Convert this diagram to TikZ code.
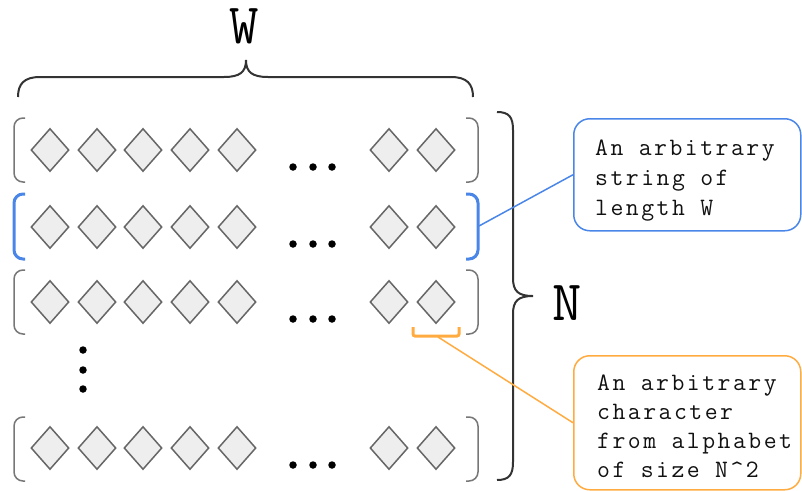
\documentclass[tikz,border=0pt]{standalone}
\usepackage{fontspec}
\setmonofont{Latin Modern Mono}[LetterSpace=10]
\newfontfamily\biglm{Latin Modern Mono}
\usetikzlibrary{shapes.geometric}
\definecolor{dgray}{HTML}{666666}
\definecolor{dfill}{HTML}{EEEEEE}
\definecolor{bgray}{HTML}{777777}
\definecolor{gblue}{HTML}{4A86E8}
\definecolor{gorange}{HTML}{FFAB40}
\definecolor{txt}{HTML}{111111}
\tikzset{
  dia/.style={diamond, draw=dgray, fill=dfill, line width=1.5pt, minimum width=38pt, minimum height=43pt, inner sep=0pt},
  dotn/.style={circle, fill=black, minimum size=7.5pt, inner sep=0pt},
  rowbr/.style={draw=bgray, line width=1.5pt, rounded corners=9pt},
  hibr/.style={draw=gblue, line width=3pt, rounded corners=9pt},
  bigbrace/.style={draw=black!80, line width=2pt},
  callout/.style={draw, line width=1.5pt, rounded corners=16pt, inner sep=0pt},
  ctext/.style={font=\ttfamily\fontsize{25}{30}\selectfont, text=txt, align=left, inner sep=0pt, anchor=base west},
  biglab/.style={font=\biglm\fontsize{57}{57}\selectfont, text=black, inner sep=0pt, anchor=base}
}
\begin{document}
\begin{tikzpicture}[x=1pt,y=-1pt]
\useasboundingbox (0,0) rectangle (802,490);
% rows of diamonds
\foreach \r/\y in {1/150,2/227,3/302,5/448}{
  \foreach \i/\x in {1/50,2/97,3/143,4/190,5/237,6/389,7/436}{
    \node[dia] (d\r\i) at (\x,\y) {};
  }
  \foreach \j/\x in {1/293,2/313,3/332}{
    \node[dotn] (p\r\j) at (\x,\y+17) {};
  }
}
% vertical dots
\node[dotn] (v1) at (83,350) {};
\node[dotn] (v2) at (83,370) {};
\node[dotn] (v3) at (83,389) {};
% row brackets
\foreach \t/\b in {118/182,270/334,417/481}{
  \draw[rowbr] (25,\t) -- (14,\t) -- (14,\b) -- (25,\b);
  \draw[rowbr] (466,\t) -- (478,\t) -- (478,\b) -- (466,\b);
}
\draw[hibr] (25,194) -- (14,194) -- (14,259) -- (25,259);
\draw[hibr] (466,194) -- (478,194) -- (478,259) -- (466,259);
\coordinate (b2r) at (479,226);
% top brace
\draw[bigbrace] (18,97) .. controls (18,84) and (24,77) .. (40,77) -- (224,77)
  .. controls (240,77) and (246,72) .. (246,60)
  .. controls (246,72) and (252,77) .. (268,77) -- (451,77)
  .. controls (467,77) and (473,84) .. (473,97);
\node[biglab] (W) at (244,43) {W};
% right brace
\draw[bigbrace] (497,112) .. controls (509,112) and (513,117) .. (513,130) -- (513,278)
  .. controls (513,291) and (518,296) .. (533,296)
  .. controls (518,296) and (513,301) .. (513,314) -- (513,462)
  .. controls (513,475) and (509,480) .. (497,480);
\node[biglab] (N) at (567,320) {N};
% orange character marker
\draw[gorange, line width=3pt, rounded corners=2pt] (413,327) -- (413,336) -- (459,336) -- (459,327);
\coordinate (om) at (438,337);
% callouts
\node[callout, draw=gblue, minimum width=227pt, minimum height=112pt, anchor=north west] (bx1) at (573,118) {};
\node[ctext] (t1) at (595,215) {An arbitrary\\string of\\length W};
\node[callout, draw=gorange, minimum width=227pt, minimum height=134pt, anchor=north west] (bx2) at (573,355) {};
\node[ctext, font=\ttfamily\fontsize{25}{29}\selectfont] (t2) at (597,477) {An arbitrary\\character\\from alphabet\\of size N\^{}2};
% connectors
\draw[gblue, line width=1.5pt] (b2r) -- (bx1.west);
\draw[gorange, line width=1.5pt] (om) -- (bx2.west);
\end{tikzpicture}
\end{document}
